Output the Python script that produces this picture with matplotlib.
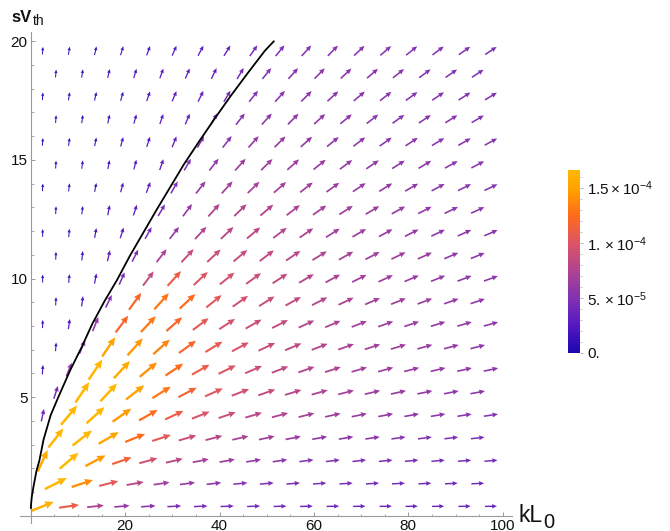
import numpy as np
import matplotlib
matplotlib.use('Agg')
import matplotlib.pyplot as plt
from matplotlib.colors import LinearSegmentedColormap, Normalize
from matplotlib.ticker import MultipleLocator, FixedLocator
import matplotlib.cm as cm

plt.rcParams['font.family'] = ['Liberation Sans', 'DejaVu Sans']
plt.rcParams['mathtext.fontset'] = 'custom'
plt.rcParams['mathtext.rm'] = 'Liberation Sans'
plt.rcParams['mathtext.it'] = 'Liberation Sans:italic'

# ---- data ----
x_even = [2.5, 8.1, 13.7, 19.3, 24.9, 30.4, 36.0, 41.6, 47.2, 52.8, 58.4, 64.0, 69.6, 75.2, 80.7, 86.3, 91.9, 97.5]
x_odd = [5.3, 10.9, 16.5, 22.1, 27.7, 33.2, 38.8, 44.4, 50.0, 55.6, 61.2, 66.8, 72.4, 77.9, 83.5, 89.1, 94.7]
row_y = [0.40, 1.36, 2.32, 3.28, 4.24, 5.20, 6.16, 7.12, 8.08, 9.04, 10.00,
         10.96, 11.92, 12.88, 13.84, 14.80, 15.76, 16.72, 17.68, 18.64, 19.60]

# on-screen arrow direction (degrees) per row
angle_rows = [
    [22, 8, 6, 5, 4, 3, 2.5, 2, 2, 1.5, 1.5, 1.2, 1.1, 1, 1, 1, 1, 1],
    [27, 18, 14, 10, 8.5, 7.5, 6.5, 5.7, 5, 4.5, 4.1, 3.8, 3.5, 3.2, 3, 2.8, 2.6],
    [65, 40, 28, 19, 15.5, 13, 11, 10, 9, 8, 7.3, 6.7, 6.2, 5.7, 5.3, 5, 4.7, 4.4],
    [52, 38, 30, 22, 18, 16, 14.5, 13, 12, 11, 10, 9.2, 8.5, 7.9, 7.4, 6.9, 6.5],
    [78, 50, 42, 35, 29.5, 25, 21.5, 18.7, 16.5, 14.8, 13.5, 12.3, 11.4, 10.5, 9.8, 9.2, 8.7, 8.2],
    [72, 56, 47, 38, 32, 27.5, 24, 21, 19, 17.2, 15.7, 14.4, 13.3, 12.4, 11.6, 10.9, 10.3],
    [86, 68, 56, 47, 40, 34, 29.5, 26, 23.3, 21, 19.2, 17.6, 16.3, 15.1, 14.1, 13.2, 12.5, 11.8],
    [86, 68, 56, 48, 41.5, 36, 31.5, 28, 25.2, 23, 21, 19.4, 18, 16.8, 15.7, 14.8, 13.9],
    [88, 82, 68, 53, 47, 41.5, 37, 33, 29.5, 26.8, 24.5, 22.6, 21, 19.5, 18.3, 17.2, 16.2, 15.3],
    [87, 82, 64, 54, 48, 43, 39, 35, 32, 29, 27, 25, 23.3, 21.8, 20.5, 19.3, 18.2],
    [89, 85, 79, 66, 53, 47.5, 43, 39, 36, 33, 30.5, 28.3, 26.4, 24.7, 23.2, 21.9, 20.8, 19.7],
    [88, 84, 77, 63, 52, 47, 43, 40, 37, 34, 31.5, 29.3, 27.4, 25.8, 24.3, 23, 21.8],
    [89, 85, 80, 72, 61, 52, 47, 43.5, 40, 37, 34.5, 32.2, 30.2, 28.4, 26.8, 25.3, 24, 22.8],
    [87, 83, 79, 72, 60, 53, 48, 44, 40.5, 37.5, 35, 32.7, 30.7, 28.9, 27.3, 25.8, 24.5],
    [87, 83, 79, 75, 70, 60, 52, 48, 44, 41, 38.2, 35.7, 33.5, 31.5, 29.7, 28.1, 26.6, 25.2],
    [87, 83, 79, 75, 71, 60, 52, 48, 44.5, 41.5, 38.8, 36.4, 34.2, 32.3, 30.5, 28.9, 27.5],
    [86, 82, 78, 75, 72, 68, 60, 52, 48, 44.8, 41.9, 39.3, 37, 34.9, 33, 31.3, 29.7, 28.3],
    [86, 82, 78, 74, 71, 67, 60, 52, 48, 45, 42.2, 39.7, 37.4, 35.4, 33.6, 31.9, 30.3],
    [86, 81, 77, 74, 71, 67, 64, 59, 51, 48, 45, 42.4, 40, 37.9, 35.9, 34.1, 32.5, 31],
    [85, 81, 77, 73, 70, 67, 64, 59, 51, 48, 45.2, 42.7, 40.4, 38.4, 36.5, 34.7, 33.1],
    [85, 80, 77, 73, 70, 66, 62, 58, 55, 50.8, 47.9, 45.3, 42.9, 40.7, 38.7, 36.9, 35.1, 33.6],
]

# magnitudes in units of 1e-5 per row
mag_rows = [
    [16, 11, 7.5, 6, 5.3, 4.9, 4.6, 4.4, 4.2, 4.1, 4.0, 3.9, 3.8, 3.7, 3.7, 3.6, 3.6, 3.5],
    [17, 14, 10.5, 8, 6.8, 6, 5.5, 5.1, 4.9, 4.7, 4.5, 4.4, 4.3, 4.2, 4.1, 4.0, 4.0],
    [15.5, 17, 14.5, 11.5, 9.5, 8, 7, 6.3, 5.8, 5.5, 5.2, 5.0, 4.8, 4.7, 4.6, 4.5, 4.4, 4.3],
    [16.5, 17, 15, 12.5, 10.5, 9, 8, 7.2, 6.7, 6.3, 5.9, 5.6, 5.4, 5.2, 5.0, 4.9, 4.8],
    [4, 17.5, 16.5, 14.5, 12.5, 11, 9.7, 8.7, 8, 7.4, 6.9, 6.5, 6.2, 5.9, 5.7, 5.5, 5.3, 5.2],
    [4.5, 17, 16.5, 15, 13, 11.5, 10.3, 9.3, 8.5, 7.8, 7.3, 6.9, 6.5, 6.2, 6.0, 5.8, 5.6],
    [2, 5.5, 16.5, 15.5, 14, 12.5, 11, 10, 9, 8.3, 7.7, 7.2, 6.8, 6.5, 6.2, 6.0, 5.8, 5.6],
    [1.6, 5.5, 15, 14.5, 13.5, 12, 10.8, 9.8, 9, 8.3, 7.7, 7.2, 6.8, 6.5, 6.2, 6.0, 5.8],
    [1.4, 2.5, 6, 12, 13, 12, 10.5, 9.5, 9, 8.4, 7.8, 7.3, 6.9, 6.6, 6.3, 6.0, 5.8, 5.6],
    [1.5, 2.5, 5, 12, 13, 12.5, 10.5, 9.5, 8.9, 8.3, 7.7, 7.3, 6.9, 6.6, 6.3, 6.0, 5.8],
    [1.3, 1.6, 2.5, 4.5, 8.5, 11, 10, 9.5, 9, 8.3, 7.7, 7.2, 6.8, 6.5, 6.2, 6.0, 5.8, 5.6],
    [1.3, 2, 3, 4.5, 7, 8.5, 9, 8.6, 8.4, 8, 7.5, 7.1, 6.7, 6.4, 6.1, 5.9, 5.7],
    [1.2, 1.5, 2.3, 3, 4.5, 6, 7.5, 8, 8, 7.6, 7.2, 6.8, 6.5, 6.2, 6.0, 5.8, 5.6, 5.4],
    [1.3, 1.5, 2.5, 3, 4.5, 6, 7.5, 7.6, 7.6, 7.3, 7, 6.7, 6.4, 6.1, 5.9, 5.7, 5.5],
    [1.2, 1.4, 1.8, 2.3, 3.2, 4.8, 6.2, 6.9, 7, 6.9, 6.7, 6.4, 6.2, 6.0, 5.8, 5.6, 5.4, 5.3],
    [1.3, 1.5, 1.8, 2.3, 3.2, 4.5, 5.8, 6.4, 6.6, 6.5, 6.3, 6.1, 5.9, 5.7, 5.6, 5.4, 5.3],
    [1.2, 1.4, 1.7, 2.1, 2.6, 3.3, 4.5, 5.5, 6, 6.1, 6.0, 5.9, 5.7, 5.6, 5.4, 5.3, 5.2, 5.1],
    [1.3, 1.5, 1.8, 2.1, 2.6, 3.2, 4.2, 5.2, 5.7, 5.8, 5.8, 5.7, 5.6, 5.4, 5.3, 5.2, 5.1],
    [1.2, 1.4, 1.7, 2.0, 2.4, 2.9, 3.5, 4.2, 5.1, 5.5, 5.6, 5.5, 5.4, 5.3, 5.2, 5.1, 5.0, 4.9],
    [1.3, 1.5, 1.8, 2.1, 2.5, 2.9, 3.5, 4.2, 5, 5.3, 5.4, 5.4, 5.3, 5.2, 5.1, 5.0, 4.9],
    [1.2, 1.4, 1.7, 2.0, 2.3, 2.7, 3.1, 3.6, 4.2, 4.9, 5.2, 5.3, 5.2, 5.2, 5.1, 5.0, 4.9, 4.8],
]
mag_scale = 1e-5

curve_x = [0.0, 0.05, 0.2, 0.56, 1.2, 1.8, 2.68, 4.2, 5.86, 8.4, 10.8, 13.0, 15.6, 18.3,
           21.0, 23.8, 26.6, 29.5, 32.4, 35.6, 38.9, 42.3, 45.9, 49.6, 51.5]
curve_y = [0.32, 0.5, 0.8, 1.23, 1.9, 2.32, 3.2, 4.24, 5.02, 6.16, 7.12, 8.08, 9.04, 9.95,
           10.96, 11.92, 12.88, 13.84, 14.80, 15.76, 16.72, 17.68, 18.64, 19.6, 20.0]

cbar_ticks = [0.0, 5e-5, 1e-4, 1.5e-4]
cbar_labels = ['0.', r'$5.\times10^{-5}$', r'$1.\times10^{-4}$', r'$1.5\times10^{-4}$']
vmax = 1.66e-4

x_major = [20, 40, 60, 80, 100]
y_major = [5, 10, 15, 20]

# ---- figure ----
W, H = 670, 531
DPI = 100
fig = plt.figure(figsize=(W / DPI, H / DPI), dpi=DPI)
ax = fig.add_axes([0.02985, 0.01525, 0.7339, 0.925])
ax.set_xlim(-2.3, 101.9)
ax.set_ylim(-0.3, 20.4)

cmap = LinearSegmentedColormap.from_list('vf', [
    (0.00, '#1a06b0'), (0.15, '#5518c2'), (0.30, '#8232b2'), (0.45, '#b04490'),
    (0.60, '#dc5466'), (0.75, '#ff6a1c'), (0.89, '#ffa000'), (1.00, '#ffb800')])
norm = Normalize(vmin=0.0, vmax=vmax)

for k, y in enumerate(row_y):
    xs = x_even if k % 2 == 0 else x_odd
    for x, a, m in zip(xs, angle_rows[k], mag_rows[k]):
        L = 1.5 + 5.6 * np.sqrt(m)
        w = 0.3 + 0.09 * L
        ax.quiver([x], [y], [L], [0.0], angles=[a], color=[cmap(norm(m * mag_scale))],
                  units='dots', scale_units='dots', scale=1.0, width=w,
                  headwidth=3.2, headlength=3.6, headaxislength=3.3,
                  pivot='middle', zorder=2)

ax.plot(curve_x, curve_y, color='black', lw=1.3, zorder=3, solid_capstyle='round')

# axes styling (axes through the origin)
for s in ['top', 'right']:
    ax.spines[s].set_visible(False)
ax.spines['left'].set_position(('data', 0))
ax.spines['bottom'].set_position(('data', 0))
for s in ['left', 'bottom']:
    ax.spines[s].set_color('#9a9a9a')
    ax.spines[s].set_linewidth(0.8)
ax.set_xticks(x_major)
ax.set_yticks(y_major)
ax.xaxis.set_minor_locator(MultipleLocator(5))
ax.yaxis.set_minor_locator(MultipleLocator(1))
ax.tick_params(which='major', direction='in', length=3.0, width=0.7, color='#9a9a9a',
               labelsize=11, labelcolor='#111111', pad=2.5)
ax.tick_params(which='minor', direction='in', length=1.8, width=0.6, color='#9a9a9a')

# axis labels (Mathematica-style large subscripts)
fig.text(11.5 / W, 1 - 21.7 / H, 'sV', fontsize=12, fontweight='bold', ha='left',
         va='baseline', color='#111111')
fig.text(33 / W, 1 - 25.0 / H, 'th', fontsize=10, ha='left', va='baseline', color='#111111')
fig.text(519 / W, 1 - 522.5 / H, 'kL', fontsize=16.5, ha='left', va='baseline', color='#111111')
fig.text(543 / W, 1 - 527.5 / H, '0', fontsize=14.5, ha='left', va='baseline', color='#111111')

# colorbar
cax = fig.add_axes([568 / W, (H - 353) / H, 12 / W, 183 / H])
sm = cm.ScalarMappable(norm=norm, cmap=cmap)
cb = fig.colorbar(sm, cax=cax)
cb.outline.set_visible(False)
cb.set_ticks(cbar_ticks)
cb.set_ticklabels(cbar_labels)
cb.ax.yaxis.set_minor_locator(FixedLocator([i * 1e-5 for i in range(17)]))
cb.ax.tick_params(which='major', direction='out', length=2.0, width=0.6, color='#aaaaaa',
                  labelsize=11, labelcolor='#111111', pad=3)
cb.ax.tick_params(which='minor', direction='out', length=1.2, width=0.5, color='#aaaaaa')

fig.savefig('out.png', dpi=DPI)
